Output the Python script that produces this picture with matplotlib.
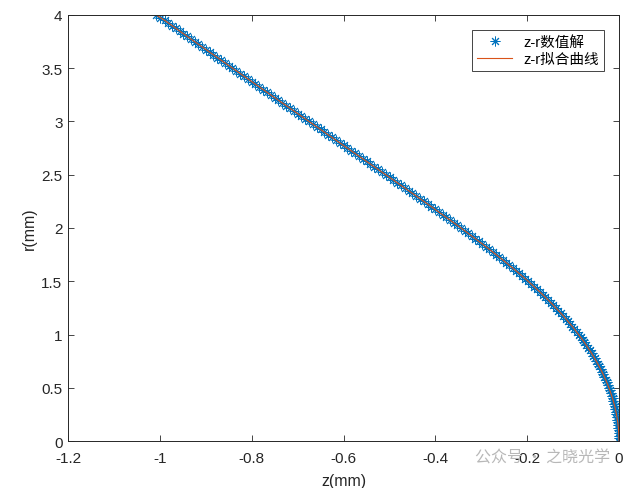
import numpy as np
import matplotlib
matplotlib.use("Agg")
import matplotlib.pyplot as plt

plt.rcParams['font.family'] = ['Liberation Sans', 'Noto Sans CJK SC', 'DejaVu Sans']
plt.rcParams['axes.unicode_minus'] = False

# -------------------------------------------------------------------
# z-r data (mm)
# -------------------------------------------------------------------
r_vals = [0.000, 0.025, 0.050, 0.075, 0.100, 0.125, 0.150, 0.175, 0.200, 0.225,
          0.250, 0.275, 0.300, 0.325, 0.350, 0.375, 0.400, 0.425, 0.450, 0.475,
          0.500, 0.525, 0.550, 0.575, 0.600, 0.625, 0.650, 0.675, 0.700, 0.725,
          0.750, 0.775, 0.800, 0.825, 0.850, 0.875, 0.900, 0.925, 0.950, 0.975,
          1.000, 1.025, 1.050, 1.075, 1.100, 1.125, 1.150, 1.175, 1.200, 1.225,
          1.250, 1.275, 1.300, 1.325, 1.350, 1.375, 1.400, 1.425, 1.450, 1.475,
          1.500, 1.525, 1.550, 1.575, 1.600, 1.625, 1.650, 1.675, 1.700, 1.725,
          1.750, 1.775, 1.800, 1.825, 1.850, 1.875, 1.900, 1.925, 1.950, 1.975,
          2.000, 2.025, 2.050, 2.075, 2.100, 2.125, 2.150, 2.175, 2.200, 2.225,
          2.250, 2.275, 2.300, 2.325, 2.350, 2.375, 2.400, 2.425, 2.450, 2.475,
          2.500, 2.525, 2.550, 2.575, 2.600, 2.625, 2.650, 2.675, 2.700, 2.725,
          2.750, 2.775, 2.800, 2.825, 2.850, 2.875, 2.900, 2.925, 2.950, 2.975,
          3.000, 3.025, 3.050, 3.075, 3.100, 3.125, 3.150, 3.175, 3.200, 3.225,
          3.250, 3.275, 3.300, 3.325, 3.350, 3.375, 3.400, 3.425, 3.450, 3.475,
          3.500, 3.525, 3.550, 3.575, 3.600, 3.625, 3.650, 3.675, 3.700, 3.725,
          3.750, 3.775, 3.800, 3.825, 3.850, 3.875, 3.900, 3.925, 3.950, 3.975,
          4.000]
z_vals = [0.0000, -0.0001, -0.0002, -0.0005, -0.0009, -0.0014, -0.0020, -0.0027, -0.0035, -0.0045,
          -0.0055, -0.0067, -0.0079, -0.0093, -0.0108, -0.0124, -0.0141, -0.0159, -0.0178, -0.0199,
          -0.0220, -0.0243, -0.0266, -0.0291, -0.0317, -0.0344, -0.0372, -0.0401, -0.0431, -0.0463,
          -0.0495, -0.0529, -0.0563, -0.0599, -0.0636, -0.0674, -0.0713, -0.0753, -0.0794, -0.0837,
          -0.0880, -0.0925, -0.0970, -0.1017, -0.1065, -0.1114, -0.1164, -0.1215, -0.1267, -0.1321,
          -0.1375, -0.1431, -0.1487, -0.1545, -0.1604, -0.1664, -0.1725, -0.1788, -0.1850, -0.1915,
          -0.1979, -0.2045, -0.2111, -0.2180, -0.2248, -0.2318, -0.2388, -0.2460, -0.2531, -0.2604,
          -0.2677, -0.2751, -0.2825, -0.2901, -0.2976, -0.3053, -0.3130, -0.3208, -0.3285, -0.3364,
          -0.3442, -0.3522, -0.3601, -0.3681, -0.3761, -0.3842, -0.3923, -0.4005, -0.4086, -0.4168,
          -0.4250, -0.4333, -0.4415, -0.4498, -0.4581, -0.4664, -0.4747, -0.4831, -0.4914, -0.4998,
          -0.5081, -0.5165, -0.5248, -0.5332, -0.5415, -0.5499, -0.5582, -0.5666, -0.5749, -0.5833,
          -0.5916, -0.6000, -0.6083, -0.6167, -0.6250, -0.6334, -0.6417, -0.6501, -0.6584, -0.6668,
          -0.6751, -0.6835, -0.6918, -0.7002, -0.7085, -0.7169, -0.7252, -0.7336, -0.7419, -0.7503,
          -0.7586, -0.7670, -0.7753, -0.7837, -0.7920, -0.8004, -0.8087, -0.8171, -0.8254, -0.8338,
          -0.8421, -0.8504, -0.8587, -0.8670, -0.8752, -0.8835, -0.8917, -0.8999, -0.9081, -0.9163,
          -0.9245, -0.9327, -0.9409, -0.9491, -0.9572, -0.9654, -0.9735, -0.9816, -0.9897, -0.9989,
          -1.0080]

x_ticks = [-1.2, -1.0, -0.8, -0.6, -0.4, -0.2, 0.0]
x_labels = ["-1.2", "-1", "-0.8", "-0.6", "-0.4", "-0.2", "0"]
y_ticks = [0, 0.5, 1, 1.5, 2, 2.5, 3, 3.5, 4]
y_labels = ["0", "0.5", "1", "1.5", "2", "2.5", "3", "3.5", "4"]

# -------------------------------------------------------------------
# Figure
# -------------------------------------------------------------------
fig = plt.figure(figsize=(6.43, 4.89), dpi=100)
ax = fig.add_axes([0.1058, 0.0961, 0.8569, 0.8712])

blue = (0.0, 0.447, 0.741)
red = (0.85, 0.325, 0.098)

ax.plot(z_vals, r_vals, linestyle="none", marker=(8, 2, 0), markersize=7,
        markeredgewidth=0.7, color=blue, label="z-r数值解")
ax.plot(z_vals, r_vals, "-", color=red, linewidth=0.8, label="z-r拟合曲线")

ax.set_xlim(-1.2, 0)
ax.set_ylim(0, 4)
ax.set_xticks(x_ticks)
ax.set_xticklabels(x_labels)
ax.set_yticks(y_ticks)
ax.set_yticklabels(y_labels)

ax.tick_params(direction="in", length=4, width=0.6, top=True, right=True,
               labelsize=11, colors="0.15")
ax.tick_params(axis="x", pad=7)
ax.tick_params(axis="y", pad=4)
for s in ax.spines.values():
    s.set_linewidth(0.7)
    s.set_color("0.15")

ax.set_xlabel("z(mm)", fontsize=11.5, color="0.15", labelpad=6)
ax.set_ylabel("r(mm)", fontsize=11.5, color="0.15", labelpad=3)

leg = ax.legend(loc="upper right", fontsize=10.5, frameon=True, fancybox=False,
                edgecolor="0.15", framealpha=1, borderaxespad=1.0,
                handlelength=2.4, borderpad=0.35, labelspacing=0.25)
leg.get_frame().set_linewidth(0.6)

# watermark
fig.text(0.739, 0.054, "公众号 · 之晓光学", fontsize=11.5, color="0.72",
         family=['Noto Sans CJK SC', 'DejaVu Sans'])

fig.savefig("out.png", dpi=100)
